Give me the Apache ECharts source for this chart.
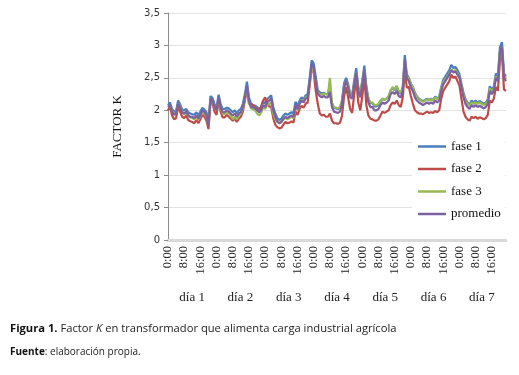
<!DOCTYPE html>
<html>
<head>
<meta charset="utf-8">
<script src="https://cdn.jsdelivr.net/npm/echarts@6/dist/echarts.min.js"></script>
<style>
  html, body { margin: 0; padding: 0; background: #fff; }
  #chart { width: 519px; height: 375px; }
</style>
</head>
<body>
<div id="chart"></div>
<script>
  // etiquetas de hora (una por hora, se muestran cada 8)
  var hourLabels = ['0:00', '1:00', '2:00', '3:00', '4:00', '5:00', '6:00', '7:00', '8:00', '9:00', '10:00', '11:00',
    '12:00', '13:00', '14:00', '15:00', '16:00', '17:00', '18:00', '19:00', '20:00', '21:00', '22:00', '23:00']
  var dayLabels = ['día 1', 'día 2', 'día 3', 'día 4', 'día 5', 'día 6', 'día 7']
  var yTicks = [0, 0.5, 1, 1.5, 2, 2.5, 3, 3.5]

  // fase 1
  var fase1 = [
    2.08, 2.12, 2.02, 1.98, 1.99, 2.15, 2.09, 2.01, 2.00, 2.02, 1.97, 1.95, 1.94, 1.93, 1.97, 1.92, 1.98, 2.04, 2.01, 1.97, 1.80, 2.22, 2.19, 2.09,
    2.04, 2.24, 2.10, 2.02, 2.02, 2.04, 2.03, 2.00, 1.97, 2.00, 1.95, 2.00, 2.02, 2.10, 2.25, 2.44, 2.20, 2.10, 2.08, 2.07, 2.05, 2.02, 2.05, 2.14,
    2.10, 2.17, 2.20, 2.23, 2.05, 1.95, 1.88, 1.85, 1.87, 1.92, 1.95, 1.93, 1.95, 1.97, 1.95, 2.13, 2.07, 2.15, 2.20, 2.17, 2.23, 2.25, 2.50, 2.77,
    2.72, 2.52, 2.31, 2.28, 2.26, 2.27, 2.25, 2.25, 2.30, 2.10, 2.04, 2.03, 2.02, 2.04, 2.16, 2.42, 2.50, 2.40, 2.26, 2.24, 2.46, 2.65, 2.36, 2.26,
    2.46, 2.69, 2.37, 2.18, 2.11, 2.11, 2.06, 2.06, 2.08, 2.14, 2.18, 2.16, 2.18, 2.21, 2.31, 2.34, 2.31, 2.36, 2.28, 2.26, 2.36, 2.85, 2.55, 2.50,
    2.41, 2.36, 2.27, 2.21, 2.18, 2.16, 2.14, 2.16, 2.18, 2.16, 2.18, 2.16, 2.21, 2.18, 2.21, 2.36, 2.47, 2.52, 2.57, 2.62, 2.70, 2.65, 2.67, 2.62,
    2.56, 2.41, 2.27, 2.17, 2.12, 2.09, 2.15, 2.12, 2.15, 2.12, 2.14, 2.12, 2.10, 2.12, 2.17, 2.37, 2.32, 2.37, 2.57, 2.52, 2.97, 3.05, 2.57, 2.52
  ]
  // fase 2
  var fase2 = [
    2.00, 2.06, 1.92, 1.86, 1.88, 2.05, 1.98, 1.90, 1.88, 1.92, 1.85, 1.83, 1.82, 1.80, 1.85, 1.80, 1.86, 1.93, 1.90, 1.84, 1.71, 2.13, 2.10, 1.98,
    1.93, 2.15, 1.98, 1.89, 1.89, 1.93, 1.90, 1.87, 1.84, 1.87, 1.82, 1.87, 1.90, 1.98, 2.15, 2.33, 2.10, 2.10, 2.08, 2.05, 2.02, 2.00, 2.05, 2.15,
    2.20, 2.10, 2.06, 2.05, 1.88, 1.78, 1.74, 1.72, 1.73, 1.78, 1.82, 1.80, 1.81, 1.83, 1.81, 1.98, 1.93, 2.02, 2.07, 2.04, 2.10, 2.12, 2.38, 2.66,
    2.58, 2.30, 2.10, 1.95, 1.92, 1.93, 1.90, 1.90, 1.95, 1.84, 1.80, 1.80, 1.79, 1.81, 1.92, 2.22, 2.36, 2.20, 2.02, 1.96, 2.25, 2.48, 2.12, 2.00,
    2.22, 2.52, 2.08, 1.92, 1.87, 1.86, 1.84, 1.84, 1.86, 1.92, 1.98, 1.96, 1.98, 2.00, 2.08, 2.12, 2.10, 2.15, 2.08, 2.05, 2.20, 2.60, 2.35, 2.36,
    2.22, 2.10, 2.00, 1.97, 1.95, 1.95, 1.94, 1.96, 1.98, 1.96, 1.97, 1.96, 1.99, 1.97, 2.00, 2.18, 2.30, 2.35, 2.40, 2.45, 2.55, 2.50, 2.52, 2.45,
    2.38, 2.18, 1.98, 1.90, 1.86, 1.84, 1.90, 1.88, 1.90, 1.87, 1.89, 1.88, 1.86, 1.88, 1.93, 2.15, 2.12, 2.18, 2.36, 2.30, 2.78, 2.88, 2.32, 2.30
  ]
  // fase 3
  var fase3 = [
    2.06, 2.07, 1.99, 1.95, 1.96, 2.10, 2.06, 1.98, 1.94, 1.97, 1.91, 1.89, 1.88, 1.86, 1.91, 1.85, 1.92, 1.98, 1.95, 1.90, 1.76, 2.18, 2.14, 2.04,
    2.00, 2.19, 2.04, 1.95, 1.94, 1.97, 1.95, 1.92, 1.86, 1.90, 1.86, 1.92, 1.95, 2.03, 2.18, 2.35, 2.12, 2.03, 2.02, 2.00, 1.95, 1.92, 1.96, 2.05,
    2.02, 2.08, 2.10, 2.12, 1.95, 1.86, 1.82, 1.80, 1.82, 1.86, 1.88, 1.86, 1.88, 1.90, 1.88, 2.05, 2.00, 2.10, 2.16, 2.14, 2.20, 2.22, 2.42, 2.66,
    2.60, 2.45, 2.28, 2.25, 2.24, 2.26, 2.25, 2.24, 2.50, 2.12, 2.05, 2.04, 2.03, 2.05, 2.14, 2.36, 2.45, 2.38, 2.25, 2.22, 2.42, 2.58, 2.34, 2.26,
    2.44, 2.62, 2.35, 2.18, 2.12, 2.12, 2.08, 2.08, 2.10, 2.15, 2.18, 2.16, 2.18, 2.21, 2.30, 2.36, 2.32, 2.38, 2.30, 2.27, 2.34, 2.76, 2.52, 2.50,
    2.40, 2.35, 2.25, 2.20, 2.17, 2.15, 2.13, 2.15, 2.17, 2.15, 2.17, 2.15, 2.20, 2.17, 2.20, 2.34, 2.43, 2.48, 2.52, 2.57, 2.63, 2.60, 2.62, 2.57,
    2.52, 2.38, 2.23, 2.14, 2.10, 2.07, 2.12, 2.10, 2.12, 2.10, 2.12, 2.10, 2.08, 2.10, 2.14, 2.34, 2.28, 2.34, 2.52, 2.48, 2.90, 2.98, 2.54, 2.48
  ]
  // promedio
  var promedio = [
    2.05, 2.08, 1.98, 1.93, 1.95, 2.10, 2.05, 1.97, 1.95, 1.98, 1.92, 1.90, 1.90, 1.88, 1.92, 1.87, 1.93, 2.00, 1.97, 1.92, 1.76, 2.18, 2.15, 2.05,
    2.00, 2.20, 2.05, 1.97, 1.97, 2.00, 1.98, 1.95, 1.92, 1.95, 1.90, 1.95, 1.97, 2.05, 2.20, 2.38, 2.15, 2.05, 2.05, 2.03, 2.00, 1.97, 2.00, 2.08,
    2.05, 2.12, 2.15, 2.18, 2.00, 1.90, 1.83, 1.80, 1.82, 1.87, 1.90, 1.88, 1.90, 1.92, 1.90, 2.08, 2.02, 2.10, 2.15, 2.12, 2.18, 2.20, 2.45, 2.72,
    2.65, 2.45, 2.25, 2.22, 2.20, 2.22, 2.20, 2.20, 2.28, 2.05, 1.98, 1.97, 1.96, 1.98, 2.10, 2.35, 2.45, 2.35, 2.20, 2.18, 2.40, 2.58, 2.30, 2.20,
    2.40, 2.62, 2.30, 2.12, 2.05, 2.05, 2.00, 2.00, 2.02, 2.08, 2.12, 2.10, 2.12, 2.15, 2.25, 2.28, 2.25, 2.30, 2.22, 2.20, 2.30, 2.78, 2.50, 2.45,
    2.35, 2.30, 2.20, 2.15, 2.12, 2.10, 2.08, 2.10, 2.12, 2.10, 2.12, 2.10, 2.15, 2.12, 2.15, 2.30, 2.40, 2.45, 2.50, 2.55, 2.62, 2.58, 2.60, 2.55,
    2.50, 2.35, 2.20, 2.10, 2.05, 2.02, 2.08, 2.05, 2.08, 2.05, 2.07, 2.05, 2.03, 2.05, 2.10, 2.30, 2.25, 2.30, 2.50, 2.45, 2.90, 2.98, 2.50, 2.45
  ]

  var seriesNames = ['fase 1', 'fase 2', 'fase 3', 'promedio']
  var seriesData = [fase1, fase2, fase3, promedio]
  var lineColors = ['#4a7ebb', '#be4b48', '#98b954', '#7d60a0']

  // categorias: 7 dias x 24 horas
  var categories = []
  dayLabels.forEach(function () {
    categories = categories.concat(hourLabels)
  })

  function setupSeries() {
    var series = []
    seriesData.forEach(function (data, index) {
      series.push({
        type: 'line',
        name: seriesNames[index],
        data: data,
        xAxisIndex: 0,
        showSymbol: false,
        symbol: 'none',
        lineStyle: {color: lineColors[index], width: 2.2},
        itemStyle: {color: lineColors[index]},
        animation: false
      })
    })
    return series
  }

  var serif = '"Liberation Serif", "Times New Roman", serif'
  var captionFont = '"Open Sans", "DejaVu Sans", sans-serif'

  var option = {
    backgroundColor: '#ffffff',
    animation: false,
    grid: {left: 168, right: 13, top: 13, bottom: 135},
    legend: {
      orient: 'vertical',
      left: 412,
      top: 140,
      itemWidth: 28,
      itemHeight: 2.5,
      itemGap: 9.5,
      icon: 'rect',
      backgroundColor: '#ffffff',
      padding: [0, 4, 0, 6],
      textStyle: {fontFamily: serif, fontSize: 13, color: '#111'},
      selectedMode: false,
      data: seriesNames
    },
    xAxis: [{
      type: 'category',
      boundaryGap: false,
      data: categories,
      axisLine: {lineStyle: {color: '#d9d9d9', width: 3}},
      axisTick: {show: false},
      axisLabel: {
        interval: 7,
        rotate: 90,
        margin: 6,
        fontFamily: serif,
        fontSize: 12.5,
        color: '#222'
      },
      splitLine: {show: false}
    }, {
      type: 'category',
      position: 'bottom',
      offset: 46,
      boundaryGap: true,
      data: dayLabels,
      axisLine: {show: false},
      axisTick: {show: false},
      axisLabel: {fontFamily: serif, fontSize: 13, color: '#222', margin: 5},
      splitLine: {show: false}
    }],
    yAxis: {
      type: 'value',
      min: yTicks[0],
      max: yTicks[yTicks.length - 1],
      interval: 0.5,
      name: 'FACTOR K',
      nameLocation: 'middle',
      nameGap: 44,
      nameTextStyle: {fontFamily: serif, fontSize: 13, color: '#111'},
      axisLine: {show: true, lineStyle: {color: '#8c8c8c', width: 1}},
      axisTick: {show: true, length: 4, lineStyle: {color: '#8c8c8c'}},
      axisLabel: {
        fontFamily: '"DejaVu Sans", Verdana, sans-serif',
        fontSize: 10,
        color: '#333',
        margin: 8,
        formatter: function (v) { return String(v).replace('.', ',') }
      },
      splitLine: {lineStyle: {color: '#e3e3e3', width: 1}}
    },
    series: setupSeries(),
    graphic: [{
      type: 'text',
      left: 10,
      top: 323,
      style: {
        text: '{b|Figura 1.} Factor {i|K} en transformador que alimenta carga industrial agrícola',
        fontFamily: captionFont,
        fontSize: 11.2,
        fill: '#222',
        rich: {
          b: {fontWeight: 'bold', fontFamily: captionFont, fontSize: 11.2, fill: '#111'},
          i: {fontStyle: 'italic', fontFamily: captionFont, fontSize: 11.2, fill: '#222'}
        }
      }
    }, {
      type: 'text',
      left: 10,
      top: 347,
      style: {
        text: '{b|Fuente}: elaboración propia.',
        fontFamily: captionFont,
        fontSize: 10,
        fill: '#222',
        rich: {
          b: {fontWeight: 'bold', fontFamily: captionFont, fontSize: 10, fill: '#111'}
        }
      }
    }]
  }

  var lineChart = echarts.init(document.getElementById('chart'), null, {renderer: 'canvas'})
  lineChart.setOption(option)
</script>
</body>
</html>
